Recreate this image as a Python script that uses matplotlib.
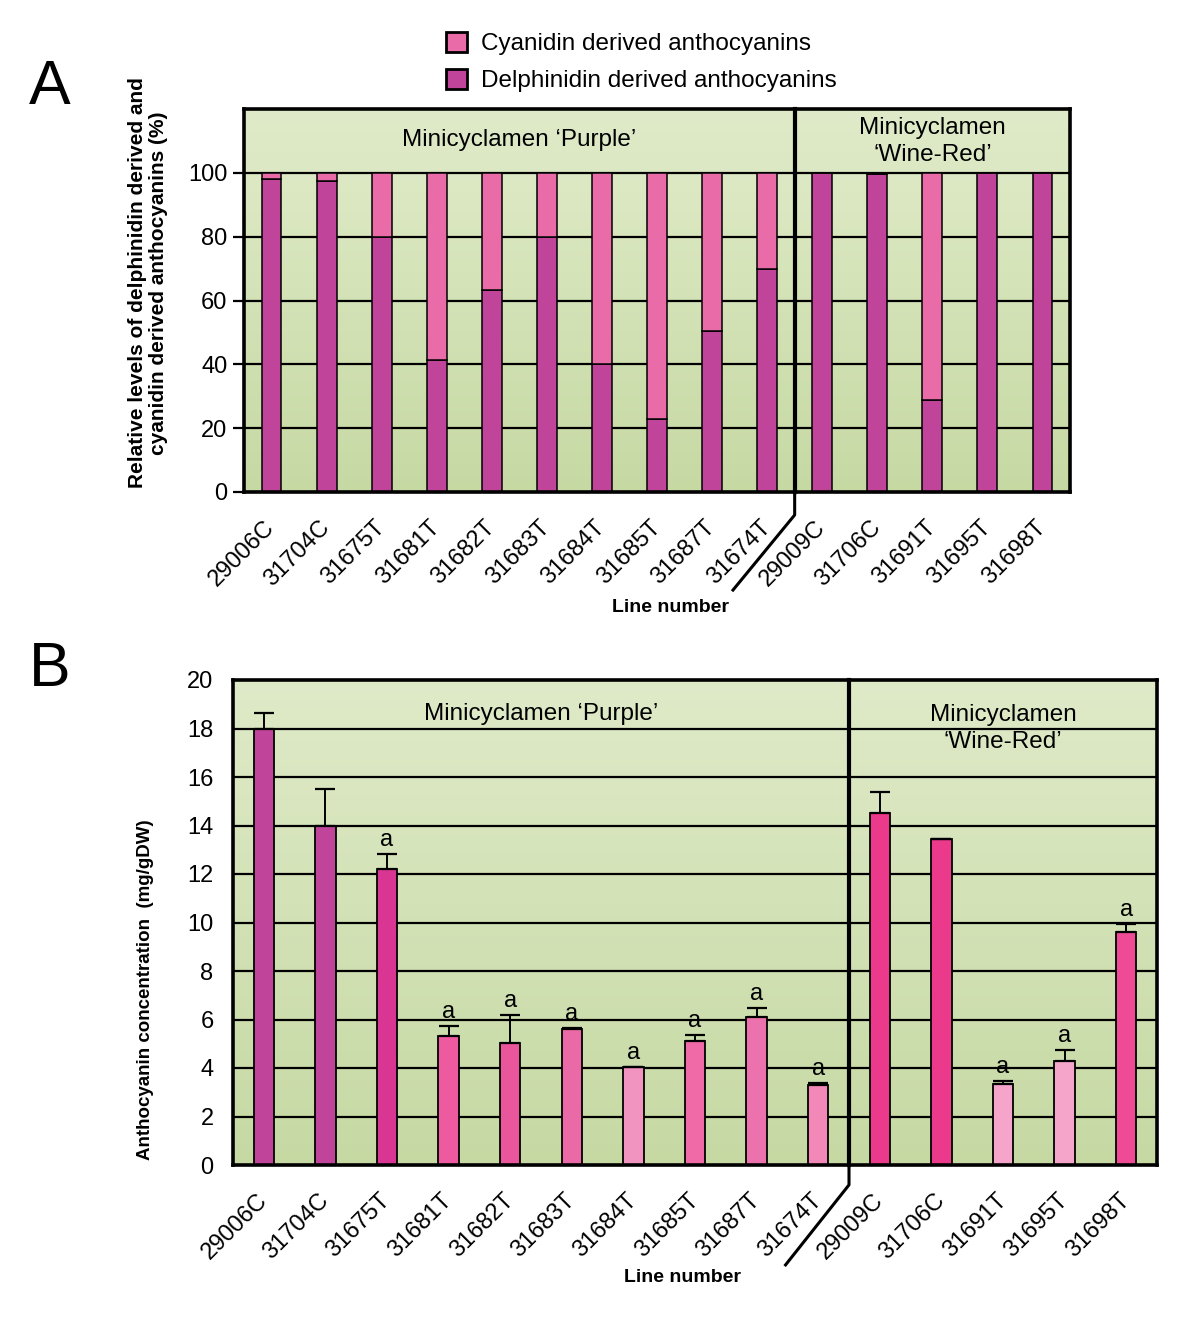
import numpy as np
import matplotlib
matplotlib.use('Agg')
import matplotlib.pyplot as plt
from matplotlib.patches import Patch
import matplotlib.transforms as mtransforms
from matplotlib.colors import to_rgb

plt.rcParams['font.family'] = ['Liberation Sans', 'DejaVu Sans']

# ---------------- data ----------------
lines = ['29006C', '31704C', '31675T', '31681T', '31682T', '31683T', '31684T',
         '31685T', '31687T', '31674T', '29009C', '31706C', '31691T', '31695T', '31698T']
delphinidin_pct = [98.0, 97.5, 80.0, 41.5, 63.2, 80.0, 40.2, 22.9, 50.6, 70.0,
                   100.0, 99.5, 28.7, 100.0, 100.0]
cyanidin_pct = [2.0, 2.5, 20.0, 58.5, 36.8, 20.0, 59.8, 77.1, 49.4, 30.0,
                0.0, 0.5, 71.3, 0.0, 0.0]
conc = [18.0, 14.0, 12.2, 5.3, 5.05, 5.62, 4.05, 5.12, 6.12, 3.3,
        14.5, 13.45, 3.32, 4.3, 9.6]
conc_err = [0.65, 1.5, 0.63, 0.43, 1.15, 0.05, 0.0, 0.25, 0.37, 0.09,
            0.88, 0.0, 0.14, 0.43, 0.34]
sig = ['', '', 'a', 'a', 'a', 'a', 'a', 'a', 'a', 'a', '', '', 'a', 'a', 'a']
bar_colors_B = ['#c1449b', '#c1449b', '#d93593', '#ee5a9f', '#e9569b', '#ea6aa8',
                '#f195c0', '#f06aa8', '#ec72ad', '#f288b8', '#eb3a8b', '#eb3a8b',
                '#f5a5c9', '#f5a5c9', '#ee4a96']
group_purple = 'Minicyclamen \u2018Purple\u2019'
group_wine = 'Minicyclamen\n\u2018Wine-Red\u2019'
yticks_A = [0, 20, 40, 60, 80, 100]
yticks_B = list(range(0, 21, 2))

c_delph = '#c1449b'
c_cyan = '#e96ba8'

W, H = 1200, 1323
fig = plt.figure(figsize=(12, 13.23), dpi=100)

def fx(px):
    return px / W

def fy(py):
    return 1 - py / H

def gradient(ax, x0, x1, y0, y1, top, bottom):
    n = 256
    t = np.linspace(0, 1, n)[:, None, None]
    img = (1 - t) * np.array(to_rgb(top)) + t * np.array(to_rgb(bottom))
    ax.imshow(img, extent=[x0, x1, y0, y1], aspect='auto', zorder=0,
              interpolation='bilinear')

x = np.arange(len(lines))

# ---------------- Panel A ----------------
axA = fig.add_axes([fx(244), fy(492), fx(1070) - fx(244), fy(109) - fy(492)])
gradient(axA, -0.5, 14.5, 0, 100, '#dde9c4', '#c6d9a3')
gradient(axA, -0.5, 14.5, 100, 120, '#dfeac8', '#dce8c3')
for v in yticks_A[1:]:
    axA.axhline(v, color='black', lw=1.6, zorder=1)
axA.bar(x, delphinidin_pct, width=0.36, color=c_delph, edgecolor='black',
        linewidth=1.1, zorder=2)
axA.bar(x, cyanidin_pct, width=0.36, bottom=delphinidin_pct, color=c_cyan,
        edgecolor='black', linewidth=1.1, zorder=2)
axA.set_xlim(-0.5, 14.5)
axA.set_ylim(0, 120)
axA.set_yticks(yticks_A)
axA.set_yticklabels([str(v) for v in yticks_A])
axA.set_xticks(x)
axA.set_xticklabels(lines, rotation=45, ha='right', va='center',
                    rotation_mode='anchor', fontsize=17)
axA.tick_params(axis='x', length=0, pad=23)
axA.tick_params(axis='y', direction='out', length=8, width=1.6, labelsize=17, pad=4)
for s in axA.spines.values():
    s.set_linewidth(2.6)
    s.set_zorder(4)
axA.text(4.5, 110.3, group_purple, ha='center', va='center', fontsize=17.5, zorder=5)
axA.text(12.0, 109.8, group_wine, ha='center', va='center', fontsize=17.5,
         linespacing=1.25, zorder=5)
trA = mtransforms.blended_transform_factory(axA.transData, axA.transAxes)
axA.plot([9.5, 9.5], [1.0, 0.0], transform=trA, color='black', lw=3, zorder=5,
         clip_on=False)
axA.plot([9.5, 9.5, 8.38], [0.0, -0.06, -0.256], transform=trA, color='black',
         lw=2.2, zorder=5, clip_on=False)

# ---------------- Panel B ----------------
axB = fig.add_axes([fx(233), fy(1165), fx(1157) - fx(233), fy(680) - fy(1165)])
gradient(axB, -0.5, 14.5, 0, 20, '#dfeac8', '#c6d9a3')
for v in yticks_B[1:-1]:
    axB.axhline(v, color='black', lw=1.6, zorder=1)
axB.bar(x, conc, width=0.33, color=bar_colors_B, edgecolor='black',
        linewidth=1.3, zorder=2)
err = np.array(conc_err)
axB.errorbar(x, conc, yerr=[np.zeros_like(err), err], fmt='none', ecolor='black',
             elinewidth=1.4, capsize=7, capthick=1.6, zorder=3)
for xi, c, e, s in zip(x, conc, conc_err, sig):
    if s:
        axB.text(xi, c + e + 0.12, s, ha='center', va='bottom', fontsize=17, zorder=5)
axB.set_xlim(-0.5, 14.5)
axB.set_ylim(0, 20)
axB.set_yticks(yticks_B)
axB.set_yticklabels([str(v) for v in yticks_B])
axB.set_xticks(x)
axB.set_xticklabels(lines, rotation=45, ha='right', va='center',
                    rotation_mode='anchor', fontsize=17)
axB.tick_params(axis='x', length=0, pad=23)
axB.tick_params(axis='y', length=0, labelsize=17, pad=14)
for s in axB.spines.values():
    s.set_linewidth(2.6)
    s.set_zorder(4)
axB.text(4.5, 18.6, group_purple, ha='center', va='center', fontsize=17.5, zorder=5)
axB.text(12.0, 18.0, group_wine, ha='center', va='center', fontsize=17.5,
         linespacing=1.25, zorder=5)
trB = mtransforms.blended_transform_factory(axB.transData, axB.transAxes)
axB.plot([9.5, 9.5], [1.0, 0.0], transform=trB, color='black', lw=3, zorder=5,
         clip_on=False)
axB.plot([9.5, 9.5, 8.47], [0.0, -0.041, -0.206], transform=trB, color='black',
         lw=2.2, zorder=5, clip_on=False)

# ---------------- labels ----------------
fig.text(fx(148), fy(283), 'Relative levels of delphinidin derived and\ncyanidin derived anthocyanins (%)',
         rotation=90, ha='center', va='center', fontsize=15, fontweight='bold',
         linespacing=1.1)
fig.text(fx(145), fy(990), 'Anthocyanin concentration  (mg/gDW)', rotation=90,
         ha='center', va='center', fontsize=13.5, fontweight='bold')
fig.text(fx(671), fy(607), 'Line number', ha='center', va='center', fontsize=14,
         fontweight='bold')
fig.text(fx(682), fy(1277), 'Line number', ha='center', va='center', fontsize=14,
         fontweight='bold')
fig.text(fx(50), fy(88), 'A', ha='center', va='center', fontsize=45)
fig.text(fx(50), fy(670), 'B', ha='center', va='center', fontsize=45)

handles = [Patch(facecolor=c_cyan, edgecolor='black', linewidth=2),
           Patch(facecolor=c_delph, edgecolor='black', linewidth=2)]
fig.legend(handles, ['Cyanidin derived anthocyanins', 'Delphinidin derived anthocyanins'],
           loc='center', bbox_to_anchor=(fx(641), fy(62)), frameon=False,
           fontsize=17.5, handlelength=0.9, handleheight=0.9, handletextpad=0.55,
           labelspacing=0.55)

fig.savefig('out.png', dpi=100, facecolor='white')
